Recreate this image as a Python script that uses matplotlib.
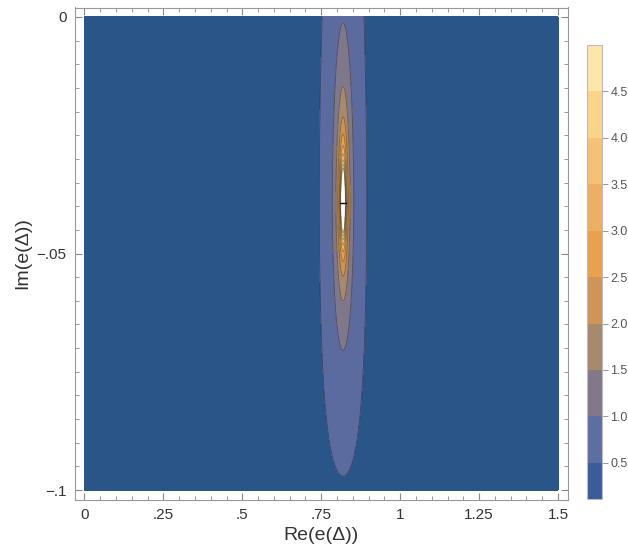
import numpy as np
import matplotlib
matplotlib.use("Agg")
import matplotlib.pyplot as plt
from matplotlib.colors import ListedColormap, BoundaryNorm
from matplotlib.cm import ScalarMappable

plt.rcParams['font.family'] = ['Liberation Sans', 'DejaVu Sans']

# contour levels and band colours
levels = [0.0, 0.5, 1.0, 1.5, 2.0, 2.5, 3.0, 3.5, 4.0, 4.5, 5.0]
band_colors = ['#2a5588', '#5b6a9f', '#7f778b', '#a68a6f', '#cd9352',
               '#e9a04f', '#eeb264', '#f4c378', '#f9d58c', '#fde6ab']
cbar_colors = ['#3a5c9c', '#5d6ea3', '#82788a', '#a78a6e', '#cf9456',
               '#e9a14d', '#edb062', '#f4c176', '#f9d48a', '#fde6aa']
cbar_min = 0.11

# plot domain
re_range = [0.0, 1.5]
im_range = [-0.1, 0.0]

# resonance parameters of the field
re_pole = 0.819
im_pole = -0.0393
strength = 0.0285
core_strength = 6e-5
core_aspect = 2.0
floor = 0.11
scale_up = 0.855
stretch_down = 0.27
stretch_ref = 0.0575
cut_half = 0.009

x_ticks = [0, 0.25, 0.5, 0.75, 1.0, 1.25, 1.5]
x_labels = ['0', '.25', '.5', '.75', '1', '1.25', '1.5']
y_ticks = [0.0, -0.05, -0.1]
y_labels = ['0', '\u2212.05', '\u2212.1']
cbar_ticks = [0.5, 1.0, 1.5, 2.0, 2.5, 3.0, 3.5, 4.0, 4.5]

x = np.linspace(re_range[0], re_range[1], 1801)
y = np.linspace(im_range[0], im_range[1], 1201)
X, Y = np.meshgrid(x, y)
dx = X - re_pole
dy = Y - im_pole
s = np.where(dy >= 0, scale_up, 1 + stretch_down * (np.abs(dy) / stretch_ref) ** 3)
r = np.sqrt(dx ** 2 + (dy * s) ** 2)
r2_core = dx ** 2 + (core_aspect * dy * s) ** 2
Z = strength / np.maximum(r, 1e-9) + core_strength / np.maximum(r2_core, 1e-12) + floor

fig = plt.figure(figsize=(6.28, 5.52), dpi=100)
ax = fig.add_axes([75 / 628, 1 - 499.5 / 552, 492.5 / 628, 492 / 552])

cmap = ListedColormap(band_colors)
norm = BoundaryNorm(levels, cmap.N)
ax.contourf(X, Y, Z, levels=levels, cmap=cmap, norm=norm)
ax.contour(X, Y, Z, levels=levels[1:], colors='k', linewidths=0.6, alpha=0.35)
ax.plot([re_pole - cut_half, re_pole + cut_half], [im_pole, im_pole], color='k', lw=1.0)

pad_x = 0.02 * (re_range[1] - re_range[0])
pad_y = 0.02 * (im_range[1] - im_range[0])
ax.set_xlim(re_range[0] - pad_x, re_range[1] + pad_x)
ax.set_ylim(im_range[0] - pad_y, im_range[1] + pad_y)

ax.set_xticks(x_ticks)
ax.set_xticklabels(x_labels)
ax.set_yticks(y_ticks)
ax.set_yticklabels(y_labels)
ax.set_xticks(np.arange(0, 1.5001, 0.05), minor=True)
ax.set_yticks(np.arange(-0.1, 0.0001, 0.005), minor=True)
ax.tick_params(which='both', direction='in', top=True, right=True, color='#888888',
               labelsize=11, labelcolor='#333333')
ax.tick_params(which='major', length=5, width=0.8, pad=6)
ax.tick_params(which='minor', length=3, width=0.6)
for sp in ax.spines.values():
    sp.set_color('#999999')
    sp.set_linewidth(0.8)

ax.set_xlabel('Re(e(\u0394))', fontsize=14, color='#333333', labelpad=4)
ax.set_ylabel('Im(e(\u0394))', fontsize=14, color='#333333', labelpad=4)

cax = fig.add_axes([587 / 628, 1 - 499 / 552, 15 / 628, 454 / 552])
sm = ScalarMappable(norm=BoundaryNorm(levels, len(cbar_colors)), cmap=ListedColormap(cbar_colors))
cb = fig.colorbar(sm, cax=cax, ticks=cbar_ticks)
cax.set_ylim(cbar_min, 5.0)
cax.minorticks_off()
cb.outline.set_edgecolor('#bbbbbb')
cb.outline.set_linewidth(0.8)
cax.tick_params(direction='out', length=4, width=0.6, color='#888888', labelsize=9,
                labelcolor='#555555', pad=2)
cax.set_yticks(cbar_ticks)
cax.set_yticklabels([f'{t:.1f}' for t in cbar_ticks])

fig.savefig('out.png', dpi=100)
